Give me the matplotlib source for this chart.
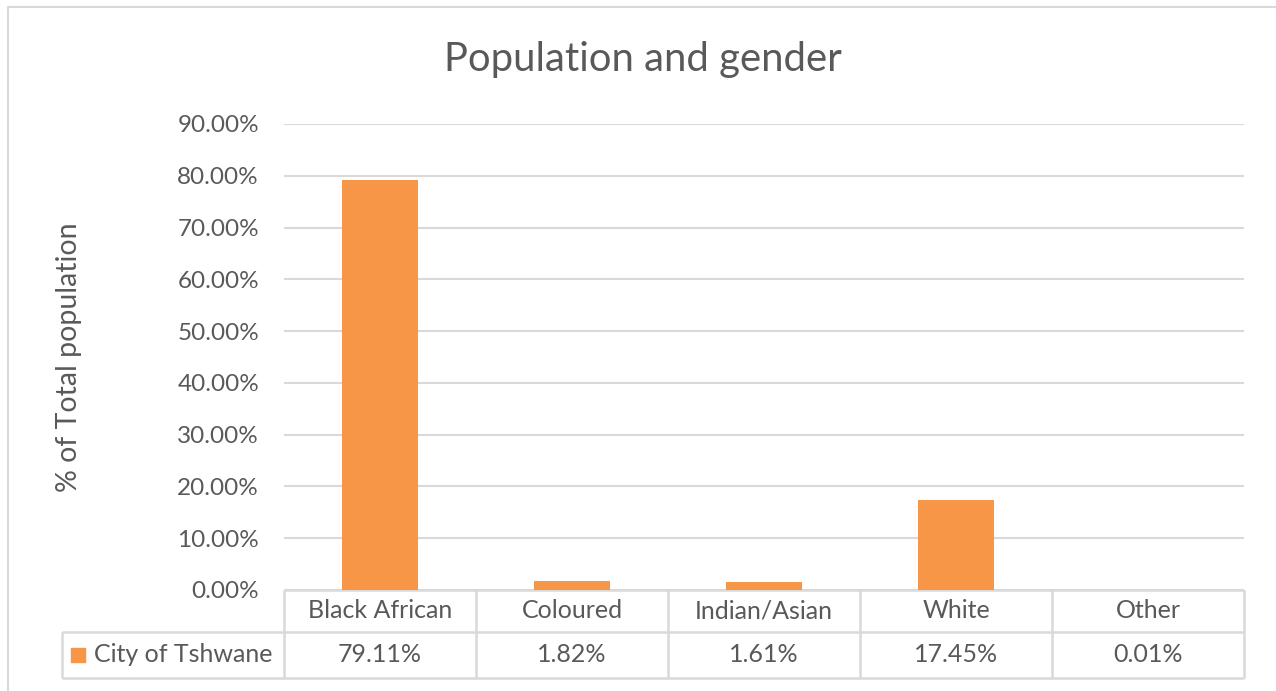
import matplotlib.pyplot as plt
from matplotlib.patches import Rectangle
from matplotlib.ticker import FuncFormatter

categories = ["Black African", "Coloured", "Indian/Asian", "White", "Other"]
values = [79.11, 1.82, 1.61, 17.45, 0.01]
value_labels = ["79.11%", "1.82%", "1.61%", "17.45%", "0.01%"]
series_name = "City of Tshwane"
yticks = [0, 10, 20, 30, 40, 50, 60, 70, 80, 90]

BAR = "#F79646"
GRID = "#D9D9D9"
TXT = "#595959"

plt.rcParams["font.family"] = ["Lato", "DejaVu Sans"]

W, H = 1276, 691
fig = plt.figure(figsize=(W / 100, H / 100), dpi=100)

# outer chart border
fig.add_artist(Rectangle((8 / W, -0.1), 1.2, 1 - 7 / H + 0.1, transform=fig.transFigure,
                         fill=False, edgecolor=GRID, linewidth=1.5))

ax = fig.add_axes([284 / W, 1 - 590 / H, 960 / W, 466 / H])
xs = range(len(categories))
ax.bar(xs, values, width=0.4, color=BAR, zorder=3)
ax.set_xlim(-0.5, len(categories) - 0.5)
ax.set_ylim(0, 90)
ax.set_yticks(yticks)
ax.yaxis.set_major_formatter(FuncFormatter(lambda v, p: f"{v:.2f}%"))
ax.tick_params(axis="y", length=0, pad=18, labelsize=17.5, labelcolor=TXT)
ax.tick_params(axis="x", length=0, labelbottom=False)
ax.grid(axis="y", color=GRID, linewidth=1.5, zorder=0)
for s in ["top", "right", "left", "bottom"]:
    ax.spines[s].set_visible(False)

ax.set_ylabel("% of Total population", fontsize=20.5, color=TXT)
ax.yaxis.set_label_coords((82 - 284) / 960, (590 - 357) / 466)
fig.text(643 / W, 1 - 60 / H, "Population and gender", fontsize=28.8, color=TXT,
         ha="center", va="center")

# data table under the axis
tr = ax.get_xaxis_transform()
y_top, y_mid, y_bot = 0.0, -42 / 466, -88 / 466
x_left = -0.5 - 222 / 192
x_right = len(categories) - 0.5
kw = dict(transform=tr, clip_on=False, color=GRID, linewidth=1.8, solid_capstyle="butt")
ax.plot([-0.5, x_right], [y_top, y_top], **kw)
ax.plot([x_left, x_right], [y_mid, y_mid], **kw)
ax.plot([x_left, x_right], [y_bot, y_bot], **kw)
ax.plot([x_left, x_left], [y_mid, y_bot], **kw)
for i in range(len(categories) + 1):
    ax.plot([i - 0.5, i - 0.5], [y_top, y_bot], **kw)
for i, (c, v) in enumerate(zip(categories, value_labels)):
    ax.text(i, (y_top + y_mid) / 2, c, transform=tr, ha="center", va="center",
            fontsize=18, color=TXT)
    ax.text(i, (y_mid + y_bot) / 2, v, transform=tr, ha="center", va="center",
            fontsize=18, color=TXT)
ax.add_patch(Rectangle((x_left + 9 / 192, (y_mid + y_bot) / 2 - 7 / 466), 14 / 192, 14 / 466,
                       transform=tr, clip_on=False, color=BAR))
ax.text(x_left + 32 / 192, (y_mid + y_bot) / 2, series_name, transform=tr, ha="left",
        va="center", fontsize=18, color=TXT)

fig.savefig("out.png", dpi=100)
